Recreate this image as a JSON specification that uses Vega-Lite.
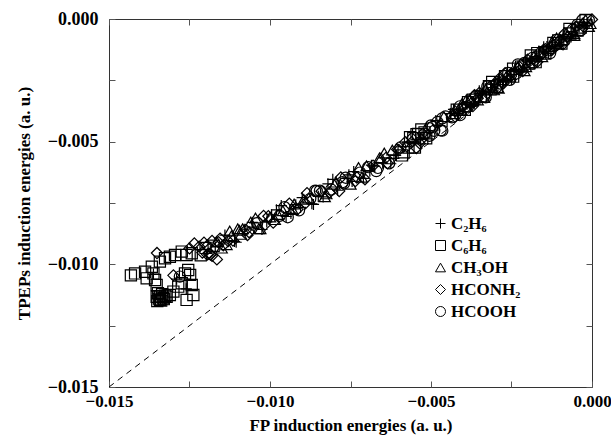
{
  "$schema": "https://vega.github.io/schema/vega-lite/v6.json",
  "width": 483,
  "height": 368,
  "autosize": {"type": "none"},
  "padding": {"left": 109, "top": 19, "right": 19, "bottom": 53},
  "background": "white",
  "config": {
    "view": {"stroke": "#333", "strokeWidth": 1},
    "axis": {
      "labelFont": "Liberation Serif", "labelFontSize": 18, "labelFontWeight": "bold", "labelColor": "black",
      "titleFont": "Liberation Serif", "titleFontSize": 17, "titleFontWeight": "bold", "titleColor": "black",
      "grid": false, "domain": false, "tickColor": "#555", "tickSize": -6, "labelFlush": false, "labelOverlap": false
    }
  },
  "layer": [
    {
      "data": {"values": [{"x": -0.015, "y": -0.015}, {"x": 0, "y": 0}]},
      "mark": {"type": "line", "color": "black", "strokeWidth": 1, "strokeDash": [6, 5]},
      "encoding": {
        "x": {"field": "x", "type": "quantitative", "scale": {"domain": [-0.015, 0], "nice": false, "zero": false},
          "axis": {"orient": "bottom", "values": [-0.015, -0.0125, -0.01, -0.0075, -0.005, -0.0025, 0],
            "labelExpr": "round(datum.value*400) % 2 == 0 ? format(datum.value, '.3f') : ''",
            "labelFontSize": 17, "labelPadding": 12, "title": "FP induction energies (a. u.)", "titlePadding": 8}},
        "y": {"field": "y", "type": "quantitative", "scale": {"domain": [-0.015, 0], "nice": false, "zero": false},
          "axis": {"orient": "left", "values": [-0.015, -0.0125, -0.01, -0.0075, -0.005, -0.0025, 0],
            "labelExpr": "round(datum.value*400) % 2 == 0 ? format(datum.value, '.3f') : ''",
            "labelPadding": 17, "title": "TPEPs induction energies (a. u.)", "titlePadding": 14}}
      }
    },
    {
      "data": {"values": [
        {"m":"HCONH2","x":-0.0122,"y":-0.00928},{"m":"HCONH2","x":-0.0121,"y":-0.00952},{"m":"C6H6","x":-0.0120,"y":-0.00933},{"m":"HCONH2","x":-0.0119,"y":-0.00957},
        {"m":"HCONH2","x":-0.0118,"y":-0.00905},{"m":"C2H6","x":-0.0117,"y":-0.00929},{"m":"HCONH2","x":-0.0116,"y":-0.00910},{"m":"CH3OH","x":-0.0115,"y":-0.00934},
        {"m":"C2H6","x":-0.0114,"y":-0.00881},{"m":"HCONH2","x":-0.0113,"y":-0.00905},{"m":"CH3OH","x":-0.0112,"y":-0.00884},{"m":"C2H6","x":-0.0111,"y":-0.00907},
        {"m":"CH3OH","x":-0.0110,"y":-0.00855},{"m":"CH3OH","x":-0.0109,"y":-0.00878},{"m":"C2H6","x":-0.0108,"y":-0.00857},{"m":"HCONH2","x":-0.0107,"y":-0.00881},
        {"m":"CH3OH","x":-0.0106,"y":-0.00828},{"m":"C2H6","x":-0.0105,"y":-0.00852},{"m":"HCOOH","x":-0.0104,"y":-0.00832},{"m":"CH3OH","x":-0.0103,"y":-0.00855},
        {"m":"HCONH2","x":-0.0102,"y":-0.00803},{"m":"C2H6","x":-0.0101,"y":-0.00827},{"m":"CH3OH","x":-0.0100,"y":-0.00807},{"m":"HCONH2","x":-0.0099,"y":-0.00830},
        {"m":"C2H6","x":-0.0098,"y":-0.00778},{"m":"HCOOH","x":-0.0097,"y":-0.00802},{"m":"CH3OH","x":-0.0096,"y":-0.00782},{"m":"C2H6","x":-0.0095,"y":-0.00805},
        {"m":"HCONH2","x":-0.0094,"y":-0.00753},{"m":"CH3OH","x":-0.0093,"y":-0.00777},{"m":"C2H6","x":-0.0092,"y":-0.00757},{"m":"HCOOH","x":-0.0091,"y":-0.00780},
        {"m":"C2H6","x":-0.0090,"y":-0.00728},{"m":"HCONH2","x":-0.0089,"y":-0.00751},{"m":"CH3OH","x":-0.0088,"y":-0.00730},{"m":"C2H6","x":-0.0087,"y":-0.00753},
        {"m":"HCOOH","x":-0.0086,"y":-0.00700},{"m":"C2H6","x":-0.0085,"y":-0.00723},{"m":"HCONH2","x":-0.0084,"y":-0.00702},{"m":"CH3OH","x":-0.0083,"y":-0.00725},
        {"m":"C2H6","x":-0.0082,"y":-0.00672},{"m":"HCOOH","x":-0.0081,"y":-0.00695},{"m":"CH3OH","x":-0.0080,"y":-0.00674},{"m":"C2H6","x":-0.0079,"y":-0.00698},
        {"m":"HCONH2","x":-0.0078,"y":-0.00646},{"m":"HCOOH","x":-0.0077,"y":-0.00670},{"m":"C2H6","x":-0.0076,"y":-0.00650},{"m":"CH3OH","x":-0.0075,"y":-0.00674},
        {"m":"C2H6","x":-0.0074,"y":-0.00622},{"m":"HCONH2","x":-0.0073,"y":-0.00646},{"m":"HCOOH","x":-0.0072,"y":-0.00626},{"m":"C2H6","x":-0.0071,"y":-0.00650},
        {"m":"CH3OH","x":-0.0070,"y":-0.00598},{"m":"C2H6","x":-0.0069,"y":-0.00620},{"m":"HCONH2","x":-0.0068,"y":-0.00598},{"m":"HCOOH","x":-0.0067,"y":-0.00620},
        {"m":"CH3OH","x":-0.0066,"y":-0.00566},{"m":"C2H6","x":-0.0065,"y":-0.00588},{"m":"HCONH2","x":-0.0064,"y":-0.00566},{"m":"HCOOH","x":-0.0063,"y":-0.00588},
        {"m":"CH3OH","x":-0.0062,"y":-0.00534},{"m":"C2H6","x":-0.0061,"y":-0.00556},{"m":"HCONH2","x":-0.0060,"y":-0.00534},{"m":"C6H6","x":-0.0059,"y":-0.00556},
        {"m":"HCONH2","x":-0.0058,"y":-0.00502},{"m":"C6H6","x":-0.0057,"y":-0.00524},{"m":"HCONH2","x":-0.0056,"y":-0.00502},{"m":"C6H6","x":-0.0055,"y":-0.00524},
        {"m":"C6H6","x":-0.0054,"y":-0.00469},{"m":"HCONH2","x":-0.0053,"y":-0.00491},{"m":"HCOOH","x":-0.0052,"y":-0.00468},{"m":"C2H6","x":-0.0051,"y":-0.00489},
        {"m":"HCOOH","x":-0.0050,"y":-0.00434},{"m":"HCOOH","x":-0.0049,"y":-0.00456},{"m":"C2H6","x":-0.0048,"y":-0.00433},{"m":"HCOOH","x":-0.0047,"y":-0.00454},
        {"m":"CH3OH","x":-0.0046,"y":-0.00398},{"m":"C2H6","x":-0.0045,"y":-0.00418},
        {"m":"C6H6","x":-0.01215,"y":-0.00963},{"m":"HCONH2","x":-0.01195,"y":-0.00924},{"m":"C6H6","x":-0.01175,"y":-0.00924},{"m":"HCONH2","x":-0.01155,"y":-0.00895},
        {"m":"CH3OH","x":-0.01135,"y":-0.00920},{"m":"HCONH2","x":-0.01115,"y":-0.00903},{"m":"CH3OH","x":-0.01095,"y":-0.00861},{"m":"HCONH2","x":-0.01075,"y":-0.00860},
        {"m":"C2H6","x":-0.01055,"y":-0.00829},{"m":"CH3OH","x":-0.01035,"y":-0.00855},{"m":"HCONH2","x":-0.01015,"y":-0.00838},{"m":"C2H6","x":-0.00995,"y":-0.00798},
        {"m":"CH3OH","x":-0.00975,"y":-0.00797},{"m":"HCOOH","x":-0.00955,"y":-0.00767},{"m":"C2H6","x":-0.00935,"y":-0.00792},{"m":"HCONH2","x":-0.00915,"y":-0.00776},
        {"m":"CH3OH","x":-0.00895,"y":-0.00735},{"m":"HCOOH","x":-0.00875,"y":-0.00733},{"m":"HCOOH","x":-0.00855,"y":-0.00701},{"m":"C2H6","x":-0.00835,"y":-0.00725},
        {"m":"HCONH2","x":-0.00815,"y":-0.00707},{"m":"CH3OH","x":-0.00795,"y":-0.00665},{"m":"HCOOH","x":-0.00775,"y":-0.00665},{"m":"C2H6","x":-0.00755,"y":-0.00635},
        {"m":"HCONH2","x":-0.00735,"y":-0.00661},{"m":"CH3OH","x":-0.00715,"y":-0.00645},{"m":"HCOOH","x":-0.00695,"y":-0.00604},{"m":"C2H6","x":-0.00675,"y":-0.00600},
        {"m":"CH3OH","x":-0.00655,"y":-0.00566},{"m":"HCONH2","x":-0.00635,"y":-0.00588},{"m":"C2H6","x":-0.00615,"y":-0.00568},{"m":"HCOOH","x":-0.00595,"y":-0.00524},
        {"m":"HCONH2","x":-0.00575,"y":-0.00520},{"m":"C6H6","x":-0.00555,"y":-0.00486},{"m":"HCONH2","x":-0.00535,"y":-0.00507},{"m":"C6H6","x":-0.00515,"y":-0.00486},
        {"m":"HCOOH","x":-0.00495,"y":-0.00440},{"m":"C2H6","x":-0.00475,"y":-0.00435},{"m":"HCOOH","x":-0.00455,"y":-0.00397},
        {"m":"HCONH2","x":-0.01205,"y":-0.00912},{"m":"HCONH2","x":-0.01185,"y":-0.00960},{"m":"CH3OH","x":-0.01165,"y":-0.00907},{"m":"HCONH2","x":-0.01145,"y":-0.00922},
        {"m":"CH3OH","x":-0.01125,"y":-0.00864},{"m":"C2H6","x":-0.01105,"y":-0.00910},{"m":"CH3OH","x":-0.01085,"y":-0.00855},{"m":"HCONH2","x":-0.01065,"y":-0.00869},
        {"m":"CH3OH","x":-0.01045,"y":-0.00811},{"m":"C2H6","x":-0.01025,"y":-0.00858},{"m":"HCONH2","x":-0.01005,"y":-0.00804},{"m":"CH3OH","x":-0.00985,"y":-0.00818},
        {"m":"C2H6","x":-0.00965,"y":-0.00761},{"m":"HCOOH","x":-0.00945,"y":-0.00808},{"m":"CH3OH","x":-0.00925,"y":-0.00754},{"m":"C2H6","x":-0.00905,"y":-0.00768},
        {"m":"HCONH2","x":-0.00885,"y":-0.00710},{"m":"C2H6","x":-0.00865,"y":-0.00756},{"m":"HCOOH","x":-0.00845,"y":-0.00700},{"m":"CH3OH","x":-0.00825,"y":-0.00713},
        {"m":"C2H6","x":-0.00805,"y":-0.00654},{"m":"HCONH2","x":-0.00785,"y":-0.00701},{"m":"HCOOH","x":-0.00765,"y":-0.00647},{"m":"C2H6","x":-0.00745,"y":-0.00662},
        {"m":"CH3OH","x":-0.00725,"y":-0.00605},{"m":"HCONH2","x":-0.00705,"y":-0.00653},{"m":"C2H6","x":-0.00685,"y":-0.00596},{"m":"HCOOH","x":-0.00665,"y":-0.00607},
        {"m":"CH3OH","x":-0.00645,"y":-0.00546},{"m":"C2H6","x":-0.00625,"y":-0.00590},{"m":"HCONH2","x":-0.00605,"y":-0.00532},{"m":"C6H6","x":-0.00585,"y":-0.00543},
        {"m":"C6H6","x":-0.00565,"y":-0.00482},{"m":"HCONH2","x":-0.00545,"y":-0.00526},{"m":"HCONH2","x":-0.00525,"y":-0.00467},{"m":"HCOOH","x":-0.00505,"y":-0.00476},
        {"m":"C2H6","x":-0.00485,"y":-0.00414},{"m":"HCOOH","x":-0.00465,"y":-0.00455},
        {"m":"C6H6","x":-0.00530,"y":-0.00450},{"m":"C6H6","x":-0.00545,"y":-0.00470},{"m":"HCONH2","x":-0.00560,"y":-0.00485},{"m":"C6H6","x":-0.00520,"y":-0.00462},
        {"m":"HCOOH","x":-0.00505,"y":-0.00445},{"m":"HCOOH","x":-0.00465,"y":-0.00405},{"m":"HCOOH","x":-0.00480,"y":-0.00420},
        {"m":"C2H6","x":-0.00440,"y":-0.00386},{"m":"HCOOH","x":-0.00435,"y":-0.00401},{"m":"CH3OH","x":-0.00430,"y":-0.00386},{"m":"HCONH2","x":-0.00425,"y":-0.00399},
        {"m":"C6H6","x":-0.00420,"y":-0.00370},{"m":"C2H6","x":-0.00415,"y":-0.00385},{"m":"HCOOH","x":-0.00410,"y":-0.00356},{"m":"CH3OH","x":-0.00405,"y":-0.00371},
        {"m":"HCONH2","x":-0.00400,"y":-0.00356},{"m":"C6H6","x":-0.00395,"y":-0.00370},{"m":"C2H6","x":-0.00390,"y":-0.00341},{"m":"HCOOH","x":-0.00385,"y":-0.00357},
        {"m":"CH3OH","x":-0.00380,"y":-0.00328},{"m":"HCONH2","x":-0.00375,"y":-0.00344},{"m":"C6H6","x":-0.00370,"y":-0.00329},{"m":"C2H6","x":-0.00365,"y":-0.00343},
        {"m":"HCOOH","x":-0.00360,"y":-0.00314},{"m":"CH3OH","x":-0.00355,"y":-0.00330},{"m":"HCONH2","x":-0.00350,"y":-0.00301},{"m":"C6H6","x":-0.00345,"y":-0.00317},
        {"m":"C2H6","x":-0.00340,"y":-0.00302},{"m":"HCOOH","x":-0.00335,"y":-0.00316},{"m":"CH3OH","x":-0.00330,"y":-0.00287},{"m":"HCONH2","x":-0.00325,"y":-0.00303},
        {"m":"C6H6","x":-0.00320,"y":-0.00274},{"m":"C2H6","x":-0.00315,"y":-0.00290},{"m":"HCOOH","x":-0.00310,"y":-0.00275},{"m":"CH3OH","x":-0.00305,"y":-0.00289},
        {"m":"HCONH2","x":-0.00300,"y":-0.00260},{"m":"C6H6","x":-0.00295,"y":-0.00276},{"m":"C2H6","x":-0.00290,"y":-0.00247},{"m":"HCOOH","x":-0.00285,"y":-0.00263},
        {"m":"CH3OH","x":-0.00280,"y":-0.00248},{"m":"HCONH2","x":-0.00275,"y":-0.00262},{"m":"C6H6","x":-0.00270,"y":-0.00233},{"m":"C2H6","x":-0.00265,"y":-0.00249},
        {"m":"HCOOH","x":-0.00260,"y":-0.00220},{"m":"CH3OH","x":-0.00255,"y":-0.00236},{"m":"HCONH2","x":-0.00250,"y":-0.00221},{"m":"C6H6","x":-0.00245,"y":-0.00235},
        {"m":"C2H6","x":-0.00240,"y":-0.00206},{"m":"HCOOH","x":-0.00235,"y":-0.00222},{"m":"CH3OH","x":-0.00230,"y":-0.00193},{"m":"HCONH2","x":-0.00225,"y":-0.00209},
        {"m":"C6H6","x":-0.00220,"y":-0.00194},{"m":"C2H6","x":-0.00215,"y":-0.00208},{"m":"HCOOH","x":-0.00210,"y":-0.00179},{"m":"CH3OH","x":-0.00205,"y":-0.00195},
        {"m":"HCONH2","x":-0.00200,"y":-0.00166},{"m":"C6H6","x":-0.00195,"y":-0.00182},{"m":"C2H6","x":-0.00190,"y":-0.00167},{"m":"HCOOH","x":-0.00185,"y":-0.00181},
        {"m":"CH3OH","x":-0.00180,"y":-0.00152},{"m":"HCONH2","x":-0.00175,"y":-0.00168},{"m":"C6H6","x":-0.00170,"y":-0.00139},{"m":"C2H6","x":-0.00165,"y":-0.00155},
        {"m":"HCOOH","x":-0.00160,"y":-0.00140},{"m":"CH3OH","x":-0.00155,"y":-0.00154},{"m":"HCONH2","x":-0.00150,"y":-0.00125},{"m":"C6H6","x":-0.00145,"y":-0.00141},
        {"m":"C2H6","x":-0.00140,"y":-0.00112},{"m":"HCOOH","x":-0.00135,"y":-0.00128},{"m":"CH3OH","x":-0.00130,"y":-0.00113},{"m":"HCONH2","x":-0.00125,"y":-0.00127},
        {"m":"C6H6","x":-0.00120,"y":-0.00098},{"m":"C2H6","x":-0.00115,"y":-0.00114},{"m":"HCOOH","x":-0.00110,"y":-0.00085},{"m":"CH3OH","x":-0.00105,"y":-0.00101},
        {"m":"HCONH2","x":-0.00100,"y":-0.00086},{"m":"C6H6","x":-0.00095,"y":-0.00100},{"m":"C2H6","x":-0.00090,"y":-0.00071},{"m":"HCOOH","x":-0.00085,"y":-0.00087},
        {"m":"CH3OH","x":-0.00080,"y":-0.00058},{"m":"HCONH2","x":-0.00075,"y":-0.00074},{"m":"C6H6","x":-0.00070,"y":-0.00059},{"m":"C2H6","x":-0.00065,"y":-0.00073},
        {"m":"HCOOH","x":-0.00060,"y":-0.00044},{"m":"CH3OH","x":-0.00055,"y":-0.00060},{"m":"HCONH2","x":-0.00050,"y":-0.00031},{"m":"C6H6","x":-0.00045,"y":-0.00047},
        {"m":"C2H6","x":-0.00040,"y":-0.00032},{"m":"HCOOH","x":-0.00035,"y":-0.00046},{"m":"CH3OH","x":-0.00030,"y":-0.00017},{"m":"HCONH2","x":-0.00025,"y":-0.00033},
        {"m":"C6H6","x":-0.00020,"y":-0.00004},{"m":"C2H6","x":-0.00015,"y":-0.00020},{"m":"HCOOH","x":-0.00010,"y":-0.00005},{"m":"CH3OH","x":-0.00005,"y":-0.00019},
        {"m":"HCONH2","x":0.0,"y":-0.00002},
        {"m":"C2H6","x":-0.0043,"y":-0.00368},{"m":"HCOOH","x":-0.0041,"y":-0.00392},{"m":"CH3OH","x":-0.0039,"y":-0.00329},{"m":"HCONH2","x":-0.0037,"y":-0.00355},
        {"m":"C2H6","x":-0.0035,"y":-0.00293},{"m":"HCOOH","x":-0.0033,"y":-0.00319},{"m":"C6H6","x":-0.0031,"y":-0.00257},{"m":"CH3OH","x":-0.0029,"y":-0.00283},
        {"m":"HCONH2","x":-0.0027,"y":-0.00221},{"m":"C2H6","x":-0.0025,"y":-0.00247},{"m":"HCOOH","x":-0.0023,"y":-0.00185},{"m":"CH3OH","x":-0.0021,"y":-0.00211},
        {"m":"C6H6","x":-0.0019,"y":-0.00149},{"m":"HCONH2","x":-0.0017,"y":-0.00175},{"m":"C2H6","x":-0.0015,"y":-0.00113},{"m":"HCOOH","x":-0.0013,"y":-0.00139},
        {"m":"CH3OH","x":-0.0011,"y":-0.00077},{"m":"HCONH2","x":-0.0009,"y":-0.00103},{"m":"C6H6","x":-0.0007,"y":-0.00041},{"m":"C2H6","x":-0.0005,"y":-0.00067},
        {"m":"HCOOH","x":-0.0003,"y":-0.00005},{"m":"CH3OH","x":-0.0001,"y":-0.00031},
        {"m":"HCONH2","x":-0.00425,"y":-0.00377},{"m":"C2H6","x":-0.00415,"y":-0.00393},{"m":"CH3OH","x":-0.00405,"y":-0.00347},{"m":"HCOOH","x":-0.00395,"y":-0.00359},
        {"m":"C6H6","x":-0.00385,"y":-0.00339},{"m":"C2H6","x":-0.00375,"y":-0.00356},{"m":"HCONH2","x":-0.00365,"y":-0.00311},{"m":"HCONH2","x":-0.00355,"y":-0.00323},
        {"m":"C2H6","x":-0.00345,"y":-0.00303},{"m":"CH3OH","x":-0.00335,"y":-0.00320},{"m":"HCOOH","x":-0.00325,"y":-0.00275},{"m":"C6H6","x":-0.00315,"y":-0.00287},
        {"m":"C2H6","x":-0.00305,"y":-0.00267},{"m":"HCONH2","x":-0.00295,"y":-0.00284},{"m":"HCONH2","x":-0.00285,"y":-0.00239},{"m":"C2H6","x":-0.00275,"y":-0.00251},
        {"m":"CH3OH","x":-0.00265,"y":-0.00231},{"m":"HCOOH","x":-0.00255,"y":-0.00248},{"m":"C6H6","x":-0.00245,"y":-0.00203},{"m":"C2H6","x":-0.00235,"y":-0.00215},
        {"m":"HCONH2","x":-0.00225,"y":-0.00195},{"m":"HCONH2","x":-0.00215,"y":-0.00212},{"m":"C2H6","x":-0.00205,"y":-0.00167},{"m":"CH3OH","x":-0.00195,"y":-0.00179},
        {"m":"HCOOH","x":-0.00185,"y":-0.00159},{"m":"C6H6","x":-0.00175,"y":-0.00176},{"m":"C2H6","x":-0.00165,"y":-0.00131},{"m":"HCONH2","x":-0.00155,"y":-0.00143},
        {"m":"HCONH2","x":-0.00145,"y":-0.00123},{"m":"C2H6","x":-0.00135,"y":-0.00140},{"m":"CH3OH","x":-0.00125,"y":-0.00095},{"m":"HCOOH","x":-0.00115,"y":-0.00107},
        {"m":"C6H6","x":-0.00105,"y":-0.00087},{"m":"C2H6","x":-0.00095,"y":-0.00104},{"m":"HCONH2","x":-0.00085,"y":-0.00059},{"m":"HCONH2","x":-0.00075,"y":-0.00071},
        {"m":"C2H6","x":-0.00065,"y":-0.00051},{"m":"CH3OH","x":-0.00055,"y":-0.00068},{"m":"HCOOH","x":-0.00045,"y":-0.00023},{"m":"C6H6","x":-0.00035,"y":-0.00035},
        {"m":"C2H6","x":-0.00025,"y":-0.00015},
        {"m":"C6H6","x":-0.01419,"y":-0.01037},{"m":"C6H6","x":-0.01432,"y":-0.01045},{"m":"C6H6","x":-0.01388,"y":-0.01030},{"m":"C6H6","x":-0.01383,"y":-0.01057},
        {"m":"C6H6","x":-0.01362,"y":-0.01037},{"m":"C6H6","x":-0.01357,"y":-0.01064},{"m":"C6H6","x":-0.01367,"y":-0.01010},{"m":"C6H6","x":-0.01342,"y":-0.00989},
        {"m":"C6H6","x":-0.01326,"y":-0.00975},{"m":"C6H6","x":-0.01311,"y":-0.00969},{"m":"C6H6","x":-0.01295,"y":-0.00962},{"m":"C6H6","x":-0.01274,"y":-0.00948},
        {"m":"C6H6","x":-0.01259,"y":-0.00962},{"m":"C6H6","x":-0.01243,"y":-0.00955},{"m":"C6H6","x":-0.01352,"y":-0.01084},{"m":"C6H6","x":-0.01331,"y":-0.01138},
        {"m":"C6H6","x":-0.01321,"y":-0.01132},{"m":"C6H6","x":-0.01311,"y":-0.01125},{"m":"C6H6","x":-0.01300,"y":-0.01111},{"m":"C6H6","x":-0.01285,"y":-0.01091},
        {"m":"C6H6","x":-0.01274,"y":-0.01077},{"m":"C6H6","x":-0.01264,"y":-0.01037},{"m":"C6H6","x":-0.01254,"y":-0.01023},{"m":"C6H6","x":-0.01248,"y":-0.01043},
        {"m":"C6H6","x":-0.01243,"y":-0.01084},{"m":"C6H6","x":-0.01238,"y":-0.01125},{"m":"C6H6","x":-0.01259,"y":-0.01145},{"m":"C6H6","x":-0.01342,"y":-0.01145},
        {"m":"C6H6","x":-0.01352,"y":-0.01132},{"m":"C6H6","x":-0.01350,"y":-0.01150},{"m":"C6H6","x":-0.01345,"y":-0.01140},{"m":"C6H6","x":-0.01338,"y":-0.01148},
        {"m":"C6H6","x":-0.01330,"y":-0.01142},{"m":"C6H6","x":-0.01342,"y":-0.01130},{"m":"C6H6","x":-0.01325,"y":-0.01128},{"m":"C6H6","x":-0.01335,"y":-0.01122},
        {"m":"C6H6","x":-0.01348,"y":-0.01118},
        {"m":"C2H6","x":-0.01362,"y":-0.01040},{"m":"C2H6","x":-0.01340,"y":-0.01140},{"m":"C2H6","x":-0.01290,"y":-0.01060},{"m":"HCONH2","x":-0.01351,"y":-0.00954},
        {"m":"HCONH2","x":-0.01300,"y":-0.01045},{"m":"HCOOH","x":-0.01280,"y":-0.01050},{"m":"C2H6","x":-0.01260,"y":-0.01100},
        {"m":"HCONH2","x":-0.01250,"y":-0.00935},{"m":"HCONH2","x":-0.01235,"y":-0.00915},{"m":"HCONH2","x":-0.01165,"y":-0.00980},{"m":"HCONH2","x":-0.01180,"y":-0.00965},
        {"m":"HCONH2","x":-0.01195,"y":-0.00960}
      ]},
      "mark": {"type": "point", "filled": false, "color": "black", "strokeWidth": 1.2, "size": 125, "opacity": 1},
      "encoding": {
        "x": {"field": "x", "type": "quantitative", "scale": {"domain": [-0.015, 0], "nice": false, "zero": false},
          "axis": {"orient": "top", "values": [-0.015, -0.0125, -0.01, -0.0075, -0.005, -0.0025, 0], "labels": false, "title": null}},
        "y": {"field": "y", "type": "quantitative", "scale": {"domain": [-0.015, 0], "nice": false, "zero": false},
          "axis": {"orient": "right", "values": [-0.015, -0.0125, -0.01, -0.0075, -0.005, -0.0025, 0], "labels": false, "title": null}},
        "shape": {"field": "m", "type": "nominal",
          "scale": {"domain": ["C2H6", "C6H6", "CH3OH", "HCONH2", "HCOOH"],
                    "range": ["M-1,0H1M0,-1V1", "square", "triangle-up", "diamond", "circle"]},
          "legend": {"orient": "none", "legendX": 323, "legendY": 196, "title": null,
            "labelFont": "Liberation Serif", "labelFontSize": 17, "labelFontWeight": "bold", "labelColor": "black",
            "symbolSize": 100, "symbolStrokeColor": "black", "symbolStrokeWidth": 1, "symbolFillColor": "transparent",
            "rowPadding": 4, "labelOffset": 2,
            "labelExpr": "datum.label == 'C2H6' ? 'C₂H₆' : datum.label == 'C6H6' ? 'C₆H₆' : datum.label == 'CH3OH' ? 'CH₃OH' : datum.label == 'HCONH2' ? 'HCONH₂' : datum.label"}}
      }
    }
  ],
  "resolve": {"axis": {"x": "independent", "y": "independent"}}
}
